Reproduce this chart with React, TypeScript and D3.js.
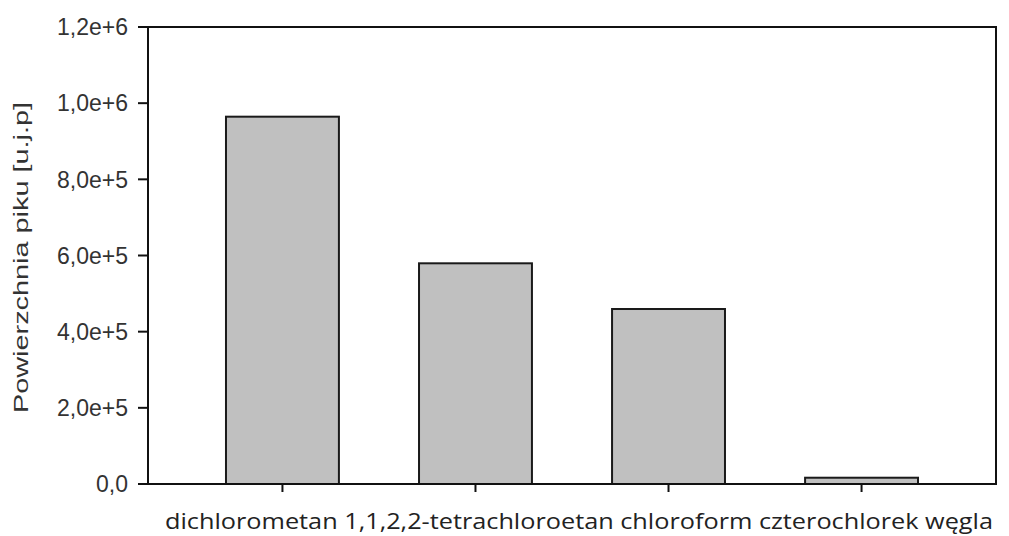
import React from "react";
import * as d3 from "d3";

const categories = ["dichlorometan", "1,1,2,2-tetrachloroetan", "chloroform", "czterochlorek węgla"];
const peakArea = [964500, 579500, 459500, 16500];
const yTicks = [0, 200000, 400000, 600000, 800000, 1000000, 1200000];
const yTickLabels = ["0,0", "2,0e+5", "4,0e+5", "6,0e+5", "8,0e+5", "1,0e+6", "1,2e+6"];
const yTitle = "Powierzchnia piku [u.j.p]";

const W = 1009;
const H = 536;
const left = 148;
const right = 996;
const top = 27;
const bottom = 484;

export default function App() {
  const x = d3
    .scaleBand<string>()
    .domain(categories)
    .range([left, right])
    .paddingInner(0.415)
    .paddingOuter(0.404);
  const y = d3.scaleLinear().domain([0, 1200000]).range([bottom, top]);

  return (
    <svg
      width={W}
      height={H}
      viewBox={`0 0 ${W} ${H}`}
      style={{ position: "absolute", left: 0, top: 0, background: "#fff" }}
    >
      {/* bars */}
      {categories.map((c, i) => (
        <rect
          key={c}
          x={x(c)!}
          y={y(peakArea[i])}
          width={x.bandwidth()}
          height={y(0) - y(peakArea[i])}
          fill="#c0c0c0"
          stroke="#1a1a1a"
          strokeWidth={2}
        />
      ))}

      {/* frame */}
      <rect
        x={left}
        y={top}
        width={right - left}
        height={bottom - top}
        fill="none"
        stroke="#111"
        strokeWidth={2}
      />

      {/* y axis ticks and labels */}
      {yTicks.map((t, i) => (
        <g key={t}>
          <line x1={left - 10} x2={left} y1={y(t)} y2={y(t)} stroke="#111" strokeWidth={2} />
          <text
            x={left - 20}
            y={y(t)}
            dy="0.36em"
            textAnchor="end"
            fontFamily="Liberation Sans, Arial, sans-serif"
            fontSize={23}
            fill="#333"
          >
            {yTickLabels[i]}
          </text>
        </g>
      ))}

      {/* x axis ticks */}
      {categories.map((c) => {
        const cx = x(c)! + x.bandwidth() / 2;
        return <line key={c} x1={cx} x2={cx} y1={bottom} y2={bottom + 8} stroke="#111" strokeWidth={2} />;
      })}

      {/* category names, set as one running line under the axis */}
      <text
        x={165}
        y={529}
        fontFamily="Open Sans, DejaVu Sans, sans-serif"
        fontSize={22.5}
        textLength={828}
        lengthAdjust="spacingAndGlyphs"
        fill="#222"
      >
        {categories.join(" ")}
      </text>

      {/* y axis title */}
      <text
        transform={`translate(28, 257.5) rotate(-90)`}
        textAnchor="middle"
        fontFamily="Liberation Sans, Arial, sans-serif"
        fontSize={20}
        textLength={311}
        lengthAdjust="spacingAndGlyphs"
        fill="#333"
      >
        {yTitle}
      </text>
    </svg>
  );
}
